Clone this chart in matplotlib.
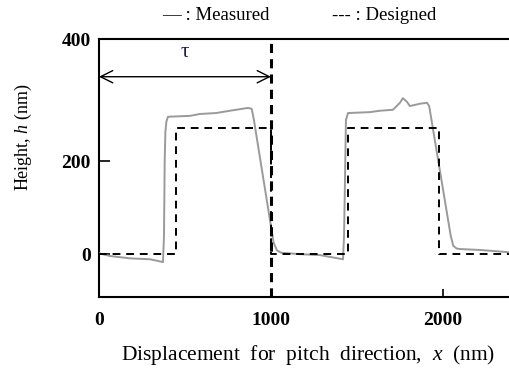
import matplotlib
matplotlib.use("Agg")
import matplotlib.pyplot as plt

plt.rcParams['font.family'] = ['Liberation Serif', 'DejaVu Serif']
plt.rcParams['mathtext.fontset'] = 'custom'
plt.rcParams['mathtext.it'] = 'Liberation Serif:italic'
plt.rcParams['mathtext.rm'] = 'Liberation Serif'

# measured profile (nm, nm)
meas_x = [0, 64, 180, 297, 372, 378, 382, 386, 392, 401, 529, 587, 680, 762, 866, 888,
          900, 1000, 1015, 1035, 1060, 1169, 1285, 1419, 1425, 1430, 1436, 1448,
          1576, 1634, 1709, 1750, 1767, 1791, 1808, 1866, 1907, 1920,
          2045, 2060, 2080, 2099, 2215, 2390]
meas_y = [2, -4, -9, -11, -17, 40, 200, 262, 285, 295, 297, 301, 303, 308, 314, 312,
          290, 60, 25, 8, 3, 0, -2, -11, 40, 150, 288, 303,
          305, 308, 310, 325, 335, 327, 318, 323, 325, 318,
          40, 18, 12, 11, 9, 4]

# designed profile
des_x = [0, 450, 450, 1000, 1000, 1450, 1450, 1980, 1980, 2390]
des_y = [0, 0, 270, 270, 0, 0, 270, 270, 0, 0]

pitch = 1000

fig = plt.figure(figsize=(5.10, 3.71), dpi=100)
ax = fig.add_axes([99/510, 1 - 297/371, 1 - 99/510, (297 - 39)/371])

ax.plot(meas_x, meas_y, color='#9a9a9a', lw=1.4, zorder=3)
ax.plot(des_x, des_y, color='black', lw=1.4, dashes=(4, 3), zorder=4)
ax.axvline(pitch, color='black', lw=2.2, dashes=(3, 2), zorder=5)

ax.annotate('', xy=(0, 381), xytext=(pitch, 381),
            arrowprops=dict(arrowstyle='<->', color='black', lw=1.0,
                            mutation_scale=22, shrinkA=0, shrinkB=0))
ax.text(500, 432, 'τ', color='#1a1a4a', fontsize=15, ha='center', va='center')

ax.set_xlim(0, 2390)
ax.set_ylim(-92, 462)
ax.set_xticks([0, 1000, 2000])
ax.set_xticklabels(['0', '1000', '2000'], fontweight='bold', fontsize=14)
ax.set_yticks([0, 200, 462])
ax.set_yticklabels(['0', '200', '400'], fontweight='bold', fontsize=14)
ax.tick_params(axis='y', direction='in', length=8, width=1.2, pad=6)
ax.tick_params(axis='x', direction='in', length=6, width=1.2, pad=11)
for s in ['left', 'bottom', 'top']:
    ax.spines[s].set_linewidth(1.5)
ax.spines['right'].set_visible(False)

fig.text(308/510, 1 - 355/371, r'Displacement  for  pitch  direction,  $x$  (nm)',
         fontsize=15.5, ha='center', va='center')
fig.text(23/510, 1 - 137/371, r'Height, $h$ (nm)', fontsize=13, rotation=90,
         ha='center', va='center')

fig.text(162/510, 1 - 15/371, '— : Measured', fontsize=13.5, ha='left', va='center')
fig.text(332/510, 1 - 15/371, '--- : Designed', fontsize=13.5, ha='left', va='center')

fig.savefig('out.png', dpi=100)
